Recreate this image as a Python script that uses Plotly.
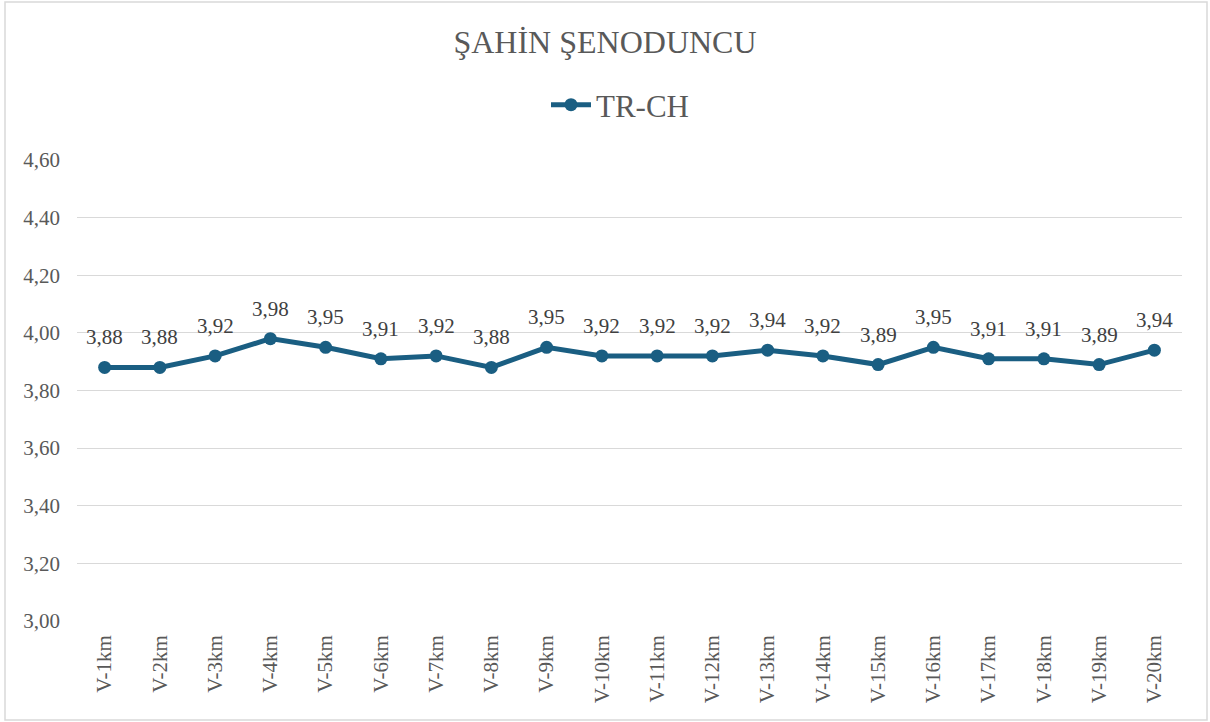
import plotly.graph_objects as go

categories = ["V-1km", "V-2km", "V-3km", "V-4km", "V-5km", "V-6km", "V-7km", "V-8km", "V-9km", "V-10km",
              "V-11km", "V-12km", "V-13km", "V-14km", "V-15km", "V-16km", "V-17km", "V-18km", "V-19km", "V-20km"]
tr_ch = [3.88, 3.88, 3.92, 3.98, 3.95, 3.91, 3.92, 3.88, 3.95, 3.92,
         3.92, 3.92, 3.94, 3.92, 3.89, 3.95, 3.91, 3.91, 3.89, 3.94]
y_ticks = [3.0, 3.2, 3.4, 3.6, 3.8, 4.0, 4.2, 4.4, 4.6]
title_text = "ŞAHİN ŞENODUNCU"
series_name = "TR-CH"

FONT = "Liberation Serif, Times New Roman, serif"
COLOR = "#1a5e82"
GREY = "#595959"

fig = go.Figure()
fig.add_trace(go.Scatter(
    x=categories, y=tr_ch, name=series_name, mode="lines+markers",
    line=dict(color=COLOR, width=5),
    marker=dict(color=COLOR, size=13),
))

for c, v in zip(categories, tr_ch):
    fig.add_annotation(x=c, y=v, text=f"{v:.2f}".replace(".", ","), showarrow=False,
                       yanchor="middle", xanchor="center", yshift=30,
                       font=dict(family=FONT, size=21, color="#404040"))

W, H = 1210, 722
l, r, t, b = 77, 28, 160, 101
pw, ph = W - l - r, H - t - b

fig.update_layout(
    width=W, height=H,
    margin=dict(l=l, r=r, t=t, b=b),
    paper_bgcolor="white", plot_bgcolor="white",
    separators=",.",
    font=dict(family=FONT, color=GREY),
    title=dict(text=title_text, x=0.5, xanchor="center", y=1 - 42 / H, yanchor="middle",
               font=dict(family=FONT, size=32, color=GREY)),
    showlegend=True,
    legend=dict(orientation="h", x=(620 - l) / pw, xanchor="center", y=1 - 105 / H, yref="container",
                yanchor="middle", font=dict(family=FONT, size=31, color=GREY),
                itemwidth=40, bgcolor="rgba(0,0,0,0)"),
    xaxis=dict(type="category", range=[-0.5, len(categories) - 0.5], tickangle=-90,
               showgrid=False, showline=False, zeroline=False,
               ticks="", ticklabelstandoff=9,
               tickfont=dict(family=FONT, size=21, color=GREY)),
    yaxis=dict(range=[3.0, 4.6], tickvals=y_ticks, tickformat=".2f", showgrid=True,
               gridcolor="#d9d9d9", gridwidth=1.3, zeroline=False, showline=False, ticks="",
               ticklabelstandoff=16,
               tickfont=dict(family=FONT, size=21, color=GREY)),
    shapes=[dict(type="rect", xref="paper", yref="paper",
                 x0=(5 - l) / pw, x1=(1207 - l) / pw,
                 y0=-(b - (H - 720)) / ph,
                 y1=1 + (t - 2) / ph,
                 line=dict(color="#d9d9d9", width=1.5), fillcolor="rgba(0,0,0,0)", layer="below")],
)

fig.write_html("out.html", config={"displayModeBar": False},
               post_script="document.body.style.margin='0';document.body.style.overflow='hidden';")
